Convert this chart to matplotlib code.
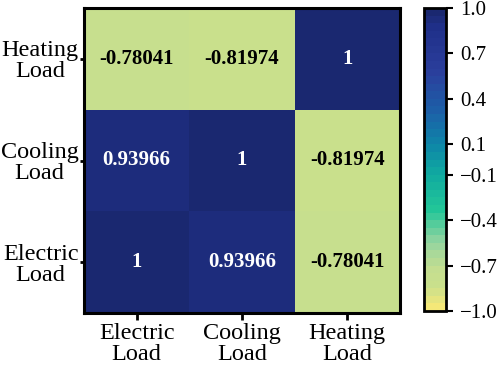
import numpy as np
import matplotlib
matplotlib.use("Agg")
import matplotlib.pyplot as plt
from matplotlib.colors import LinearSegmentedColormap

x_labels = ["Electric\nLoad", "Cooling\nLoad", "Heating\nLoad"]
y_labels = ["Electric\nLoad", "Cooling\nLoad", "Heating\nLoad"]  # bottom to top
# rows bottom->top, cols left->right
corr = np.array([
    [1.0, 0.93966, -0.78041],
    [0.93966, 1.0, -0.81974],
    [-0.78041, -0.81974, 1.0],
])
cbar_ticks = [1.0, 0.7, 0.4, 0.1, -0.1, -0.4, -0.7, -1.0]

plt.rcParams['font.family'] = ['Liberation Serif', 'DejaVu Serif']

stops = [(0.0, '#f4e878'), (0.07, '#cae08c'), (0.13, '#c4de90'), (0.22, '#94d4a0'),
         (0.33, '#22c698'), (0.45, '#10aaa0'), (0.55, '#0e86a8'), (0.66, '#1c60a8'),
         (0.8, '#2b3e9c'), (0.95, '#1f2f88'), (1.0, '#1a2870')]
cmap = LinearSegmentedColormap.from_list('custom', stops, N=40)

fig = plt.figure(figsize=(4.98, 3.69), dpi=100)
ax = fig.add_axes([84/498, 1-313/369, (400-84)/498, (313-8)/369])
cax = fig.add_axes([424/498, 1-311/369, (446-424)/498, (311-8)/369])

im = ax.pcolormesh(np.arange(4), np.arange(4), corr, cmap=cmap, vmin=-1, vmax=1)
for i in range(3):
    for j in range(3):
        v = corr[i, j]
        txt = "1" if v == 1.0 else f"{v:.5f}"
        color = 'white' if v > 0 else 'black'
        ax.text(j + 0.5, i + 0.5, txt, ha='center', va='center', fontsize=15,
                fontweight='bold', color=color)

ax.set_xlim(0, 3)
ax.set_ylim(0, 3)
ax.set_xticks(np.arange(3) + 0.5)
ax.set_xticklabels(x_labels, fontsize=17.5, linespacing=1.0)
ax.set_yticks(np.arange(3) + 0.5)
ax.set_yticklabels(y_labels, fontsize=17.5, linespacing=1.0, multialignment='center')
ax.tick_params(axis='x', length=5, width=2, color='black', pad=2)
ax.tick_params(axis='y', length=3, width=2, color='black', pad=1)
for s in ax.spines.values():
    s.set_linewidth(2.2)

cb = fig.colorbar(im, cax=cax)
cb.set_ticks(cbar_ticks)
cb.set_ticklabels([f"{t:.1f}".replace('-', '\u2212') for t in cbar_ticks])
cax.tick_params(labelsize=15, length=5, width=1.5, pad=5)
cb.outline.set_linewidth(2)

fig.savefig("out.png", dpi=100)
